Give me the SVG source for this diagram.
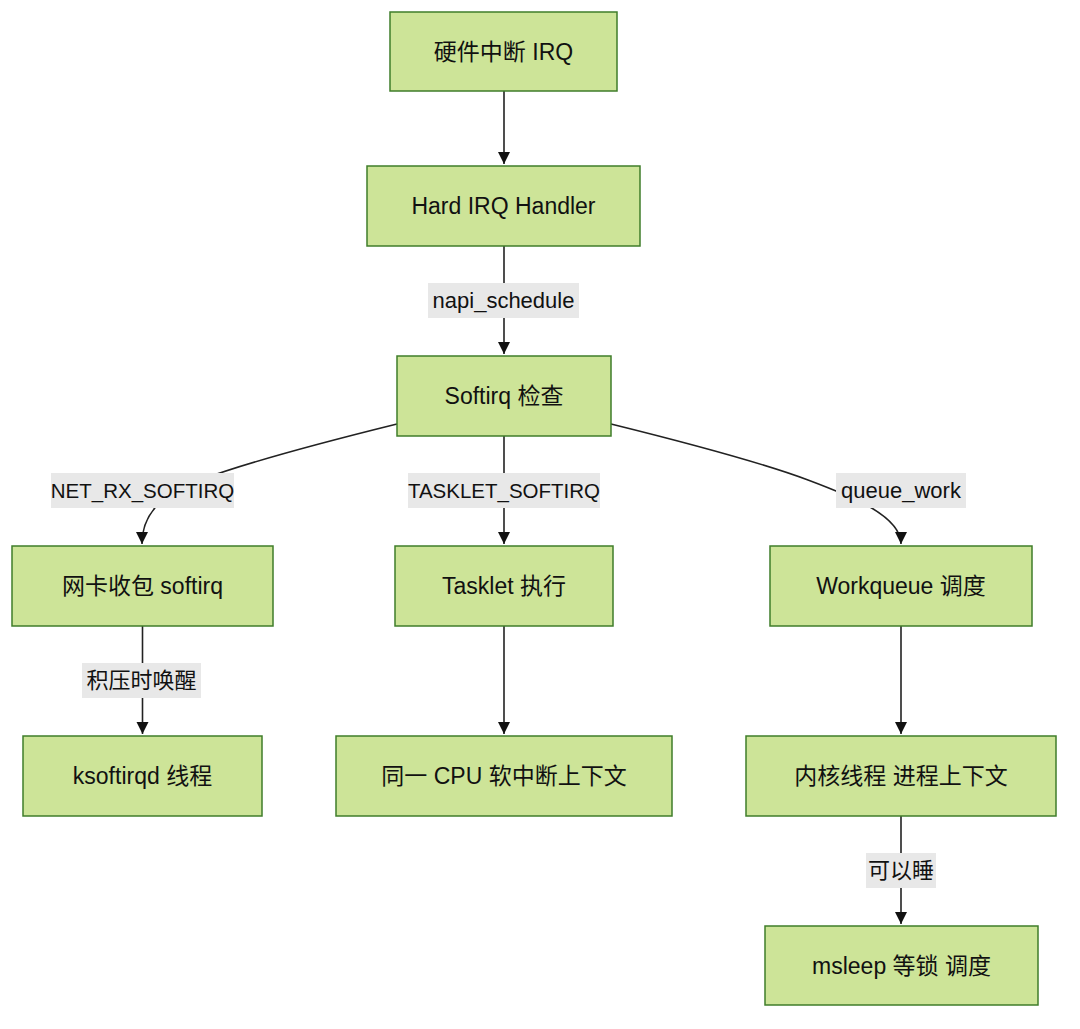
<svg xmlns="http://www.w3.org/2000/svg" width="1080" height="1029" viewBox="0 0 1080 1029">
<style>
.node rect{fill:#cde498;stroke:#3f7d2a;stroke-width:1.5}
.node text{font-family:"Liberation Sans","Noto Sans CJK SC",sans-serif;font-size:23px;fill:#111;text-anchor:middle;dominant-baseline:central}
.edges path{fill:none;stroke:#222;stroke-width:1.6}
.elabel rect{fill:#e8e8e8}
.elabel text{font-family:"Liberation Sans","Noto Sans CJK SC",sans-serif;font-size:22px;fill:#111;text-anchor:middle;dominant-baseline:central}
.elabel text.caps{font-size:20.5px}
</style>
<defs>
<marker id="arr" markerUnits="userSpaceOnUse" markerWidth="14" markerHeight="14" refX="12" refY="6" orient="auto">
<path d="M0,0 L12,6 L0,12 z" fill="#111"/>
</marker>
</defs>
<rect width="1080" height="1029" fill="#fff"/>
<g class="edges">
<path d="M504,91 L504,164" marker-end="url(#arr)"/>
<path d="M504,246 L504,354" marker-end="url(#arr)"/>
<path d="M397,424 C300,448 240,465 200,480 C160,495 142,515 142,544" marker-end="url(#arr)"/>
<path d="M504,436 L504,544" marker-end="url(#arr)"/>
<path d="M611,424 C708,448 768,465 808,480 C848,495 901,515 901,544" marker-end="url(#arr)"/>
<path d="M142.5,626 L142.5,734" marker-end="url(#arr)"/>
<path d="M504,626 L504,734" marker-end="url(#arr)"/>
<path d="M901,626 L901,734" marker-end="url(#arr)"/>
<path d="M901,816 L901,924" marker-end="url(#arr)"/>
</g>
<g class="elabel" id="l_napi"><rect x="428" y="283" width="151" height="35"/><text x="503.5" y="300.5">napi_schedule</text></g>
<g class="elabel" id="l_netrx"><rect x="51" y="473" width="183" height="35"/><text class="caps" x="142.5" y="490.5">NET_RX_SOFTIRQ</text></g>
<g class="elabel" id="l_tasklet"><rect x="408" y="473" width="192" height="35"/><text class="caps" x="504" y="490.5">TASKLET_SOFTIRQ</text></g>
<g class="elabel" id="l_queue"><rect x="836" y="473" width="130" height="35"/><text x="901" y="490.5">queue_work</text></g>
<g class="elabel" id="l_backlog"><rect x="82" y="663" width="119" height="35"/><text x="141.5" y="680.5">积压时唤醒</text></g>
<g class="elabel" id="l_sleep"><rect x="866" y="853" width="70" height="35"/><text x="901" y="870.5">可以睡</text></g>
<g class="node" id="n_hwirq"><rect x="390" y="12" width="227" height="79"/><text x="503.5" y="51.5">硬件中断 IRQ</text></g>
<g class="node" id="n_hardirq"><rect x="367" y="166" width="273" height="80"/><text x="503.5" y="206">Hard IRQ Handler</text></g>
<g class="node" id="n_softirq"><rect x="397" y="356" width="214" height="80"/><text x="504" y="396">Softirq 检查</text></g>
<g class="node" id="n_netrx"><rect x="12" y="546" width="261" height="80"/><text x="142.5" y="586">网卡收包 softirq</text></g>
<g class="node" id="n_tasklet"><rect x="395" y="546" width="218" height="80"/><text x="504" y="586">Tasklet 执行</text></g>
<g class="node" id="n_wq"><rect x="770" y="546" width="262" height="80"/><text x="901" y="586">Workqueue 调度</text></g>
<g class="node" id="n_ksoftirqd"><rect x="23" y="736" width="239" height="80"/><text x="142.5" y="776">ksoftirqd 线程</text></g>
<g class="node" id="n_samecpu"><rect x="336" y="736" width="336" height="80"/><text x="504" y="776">同一 CPU 软中断上下文</text></g>
<g class="node" id="n_kthread"><rect x="746" y="736" width="310" height="80"/><text x="901" y="776">内核线程 进程上下文</text></g>
<g class="node" id="n_msleep"><rect x="765" y="926" width="273" height="79"/><text x="901.5" y="965.5">msleep 等锁 调度</text></g>
</svg>
